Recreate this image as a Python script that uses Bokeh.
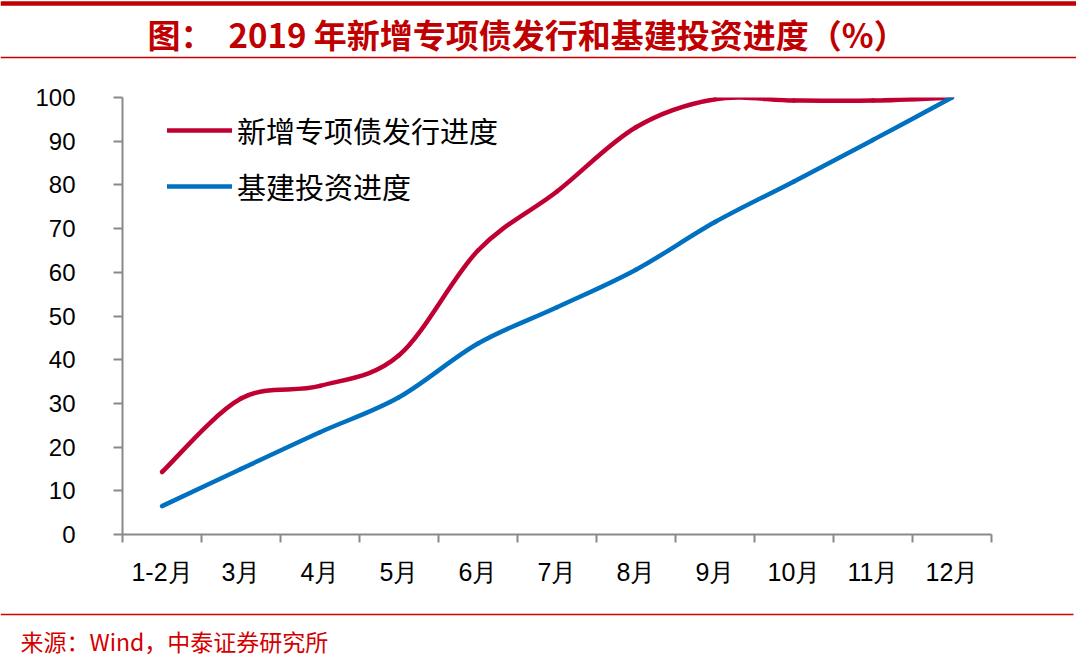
import numpy as np
from bokeh.plotting import figure
from bokeh.models import (Range1d, FixedTicker, CustomJSTickFormatter, Legend, LegendItem,
                          ColumnDataSource)
from bokeh.layouts import column
from bokeh.core.properties import value
from bokeh.embed import file_html
from bokeh.resources import INLINE

# ---------------- data ----------------
categories = ["1-2月", "3月", "4月", "5月", "6月", "7月", "8月", "9月", "10月", "11月", "12月"]
bond_progress = [14.3, 31.1, 34.0, 41.0, 65.0, 78.5, 93.2, 99.6, 99.3, 99.3, 100.0]
infra_progress = [6.5, 15.0, 23.4, 31.4, 43.7, 52.0, 60.6, 71.5, 80.8, 90.3, 100.0]
series_names = ["新增专项债发行进度", "基建投资进度"]
y_ticks = [0, 10, 20, 30, 40, 50, 60, 70, 80, 90, 100]
title_text = "图：\u00a0\u00a02019 年新增专项债发行和基建投资进度（%）"
source_text = "来源：Wind，中泰证券研究所"

# ---------------- style ----------------
W = 1076
TITLE_RED = "#C00000"
SRC_RED = "#D40000"
RED = "#C00032"
BLUE = "#0070C0"
AXIS = "#898989"
CJK = "Noto Sans CJK SC"
LAT = "Liberation Sans"


def smooth_segments(xv, yv, t=1.0 / 6.0):
    """Cubic Bezier control points (Excel-like smoothed line) for each pair of points."""
    x = np.asarray(xv, dtype=float)
    y = np.asarray(yv, dtype=float)
    n = len(x)
    xp = np.concatenate([[x[0]], x, [x[-1]]])
    yp = np.concatenate([[y[0]], y, [y[-1]]])
    cx0 = x[:-1] + (xp[2:n + 1] - xp[0:n - 1]) * t
    cy0 = y[:-1] + (yp[2:n + 1] - yp[0:n - 1]) * t
    cx1 = x[1:] - (xp[3:n + 2] - xp[1:n]) * t
    cy1 = y[1:] - (yp[3:n + 2] - yp[1:n]) * t
    return dict(x0=x[:-1], y0=y[:-1], x1=x[1:], y1=y[1:],
                cx0=cx0, cy0=cy0, cx1=cx1, cy1=cy1)


# ---------------- title strip ----------------
TOP_H = 68
top = figure(width=W, height=TOP_H, x_range=Range1d(0, W), y_range=Range1d(TOP_H, 0),
             x_axis_type=None, y_axis_type=None, output_backend="svg",
             toolbar_location=None, min_border=0, frame_align=False)
top.outline_line_color = None
top.segment(x0=[0], y0=[3], x1=[W], y1=[3], line_color=TITLE_RED, line_width=4.5)
top.segment(x0=[0], y0=[57], x1=[W], y1=[57], line_color=TITLE_RED, line_width=1.5)
top.text(x=[147], y=[33], text=[title_text], text_font=value(CJK), text_font_size="33px",
         text_font_style="bold", text_color=TITLE_RED, text_baseline="middle", text_align="left")

# ---------------- main chart ----------------
p = figure(width=W, height=532, x_range=Range1d(0, len(categories)), y_range=Range1d(0, 100),
           output_backend="svg", toolbar_location=None,
           min_border_left=122, min_border_right=W - 991, min_border_top=29, min_border_bottom=66)
p.grid.visible = False
p.outline_line_color = None

xpos = np.arange(len(categories)) + 0.5

src_red = ColumnDataSource(smooth_segments(xpos, bond_progress))
src_blue = ColumnDataSource(smooth_segments(xpos, infra_progress))
r_red = p.bezier(x0="x0", y0="y0", x1="x1", y1="y1", cx0="cx0", cy0="cy0", cx1="cx1", cy1="cy1",
                 source=src_red, line_color=RED, line_width=4.5, line_cap="round")
r_blue = p.bezier(x0="x0", y0="y0", x1="x1", y1="y1", cx0="cx0", cy0="cy0", cx1="cx1", cy1="cy1",
                  source=src_blue, line_color=BLUE, line_width=4.5, line_cap="round")

# x axis: labels at category centres, tick marks at category boundaries
xa = p.xaxis[0]
xa.ticker = FixedTicker(ticks=list(xpos), minor_ticks=list(range(len(categories) + 1)))
xa.formatter = CustomJSTickFormatter(args=dict(labels=categories),
                                     code="return labels[Math.round(tick - 0.5)] || '';")
xa.major_tick_out = 0
xa.major_tick_in = 0
xa.minor_tick_out = 8
xa.minor_tick_in = 0
xa.minor_tick_line_color = AXIS
xa.minor_tick_line_width = 2
xa.axis_line_color = AXIS
xa.axis_line_width = 2
xa.major_label_text_font = LAT
xa.major_label_text_font_size = "25px"
xa.major_label_text_color = "#000000"
xa.major_label_standoff = 15

ya = p.yaxis[0]
ya.ticker = FixedTicker(ticks=y_ticks)
ya.major_tick_out = 9
ya.major_tick_in = 0
ya.major_tick_line_color = AXIS
ya.major_tick_line_width = 2
ya.minor_tick_line_color = None
ya.axis_line_color = AXIS
ya.axis_line_width = 2
ya.major_label_text_font = LAT
ya.major_label_text_font_size = "24px"
ya.major_label_text_color = "#000000"
ya.major_label_standoff = 38

legend = Legend(items=[LegendItem(label=series_names[0], renderers=[r_red]),
                       LegendItem(label=series_names[1], renderers=[r_blue])],
                location=(45, 327), glyph_width=65, glyph_height=30, label_height=30,
                spacing=14, padding=0, margin=0, label_standoff=5,
                border_line_color=None, background_fill_alpha=0,
                label_text_font=CJK, label_text_font_size="29px", label_text_color="#000000")
p.add_layout(legend)

# ---------------- source strip ----------------
BOT_H = 65
bot = figure(width=W, height=BOT_H, x_range=Range1d(0, W), y_range=Range1d(BOT_H, 0),
             x_axis_type=None, y_axis_type=None, output_backend="svg",
             toolbar_location=None, min_border=0, frame_align=False)
bot.outline_line_color = None
bot.segment(x0=[0], y0=[14], x1=[1073], y1=[14], line_color=SRC_RED, line_width=1.5)
bot.text(x=[20], y=[40], text=[source_text], text_font=value(CJK), text_font_size="23px",
         text_color=SRC_RED, text_baseline="middle", text_align="left")

layout = column(top, p, bot, spacing=0)

open("out.html", "w").write(file_html(layout, INLINE))
